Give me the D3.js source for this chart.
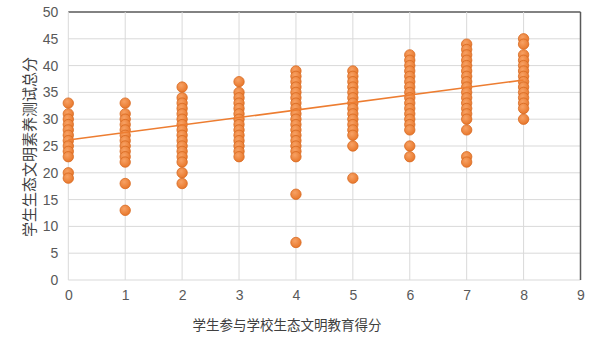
<!DOCTYPE html>
<html>
<head>
<meta charset="utf-8">
<script src="https://cdn.jsdelivr.net/npm/d3@7"></script>
<style>
  body { margin: 0; background: #fff; }
  text { font-family: "Liberation Sans", "DejaVu Sans", sans-serif; }
  .cjk { font-family: "Noto Sans CJK SC", sans-serif; }
</style>
</head>
<body>
<div id="chart"></div>
<script>
// x categories: 学生参与学校生态文明教育得分
var xScores = [0, 1, 2, 3, 4, 5, 6, 7, 8];
// y values read per x column: 学生生态文明素养测试总分
var col0 = [33, 31, 30, 29, 28, 27, 26, 25, 24, 23, 20, 19];
var col1 = [33, 31, 30, 29, 28, 27, 26, 25, 24, 23, 22, 18, 13];
var col2 = [36, 34, 33, 32, 31, 30, 29, 28, 27, 26, 25, 24, 23, 22, 20, 18];
var col3 = [37, 35, 34, 33, 32, 31, 30, 29, 28, 27, 26, 25, 24, 23];
var col4 = [39, 38, 37, 36, 35, 34, 33, 32, 31, 30, 29, 28, 27, 26, 25, 24, 23, 16, 7];
var col5 = [39, 38, 37, 36, 35, 34, 33, 32, 31, 30, 29, 28, 27, 25, 19];
var col6 = [42, 41, 40, 39, 38, 37, 36, 35, 34, 33, 32, 31, 30, 29, 28, 25, 23];
var col7 = [44, 43, 42, 41, 40, 39, 38, 37, 36, 35, 34, 33, 32, 31, 30, 28, 23, 22];
var col8 = [45, 44, 42, 41, 40, 39, 38, 37, 36, 35, 34, 33, 32, 30];
var yCols = [col0, col1, col2, col3, col4, col5, col6, col7, col8];
// linear trend line endpoints
var trendX = [0, 8];
var trendY = [26.1, 37.3];
var xTicks = [0, 1, 2, 3, 4, 5, 6, 7, 8, 9];
var yTicks = [0, 5, 10, 15, 20, 25, 30, 35, 40, 45, 50];

var width = 592, height = 350;
var margin = {top: 12, right: 11.5, bottom: 70, left: 68.3};

var svg = d3.select("#chart").append("svg")
    .attr("width", width)
    .attr("height", height);

var x = d3.scaleLinear().domain([0, 9]).range([margin.left, width - margin.right]);
var y = d3.scaleLinear().domain([0, 50]).range([height - margin.bottom, margin.top]);

// gridlines
svg.append("g")
    .selectAll("line.h")
    .data(yTicks)
    .enter()
    .append("line")
    .attr("x1", x(0)).attr("x2", x(9))
    .attr("y1", function (d) { return y(d); })
    .attr("y2", function (d) { return y(d); })
    .attr("stroke", function (d) { return d === 50 ? "#595959" : "#d9d9d9"; })
    .attr("stroke-width", function (d) { return d === 50 ? 1.5 : 1; });

svg.append("g")
    .selectAll("line.v")
    .data(xTicks)
    .enter()
    .append("line")
    .attr("y1", y(0)).attr("y2", y(50))
    .attr("x1", function (d) { return x(d); })
    .attr("x2", function (d) { return x(d); })
    .attr("stroke", function (d) { return d === 9 ? "#595959" : "#d9d9d9"; })
    .attr("stroke-width", function (d) { return d === 9 ? 1.5 : 1; });

// axes (labels only)
var yAxis = svg.append("g")
    .attr("transform", "translate(" + margin.left + ",0)")
    .call(d3.axisLeft(y).tickValues(yTicks).tickSize(0).tickPadding(10));
yAxis.select(".domain").remove();
yAxis.selectAll("text")
    .style("font-size", "14px")
    .style("fill", "#595959");

var xAxis = svg.append("g")
    .attr("transform", "translate(0," + y(0) + ")")
    .call(d3.axisBottom(x).tickValues(xTicks).tickSize(0).tickPadding(10));
xAxis.select(".domain").remove();
xAxis.selectAll("text")
    .style("font-size", "14px")
    .style("fill", "#595959");

// points
var defs = svg.append("defs");
var grad = defs.append("radialGradient")
    .attr("id", "dotGrad")
    .attr("cx", "40%").attr("cy", "35%").attr("r", "65%");
grad.append("stop").attr("offset", "0%").attr("stop-color", "#f7a164");
grad.append("stop").attr("offset", "100%").attr("stop-color", "#e8782c");

var points = [];
yCols.forEach(function (col, i) {
    col.forEach(function (v) {
        points.push({x: xScores[i], y: v});
    });
});

svg.append("g")
    .selectAll("circle")
    .data(points)
    .enter()
    .append("circle")
    .attr("cx", function (d) { return x(d.x); })
    .attr("cy", function (d) { return y(d.y); })
    .attr("r", 5.2)
    .attr("fill", "url(#dotGrad)")
    .attr("stroke", "#d86a21")
    .attr("stroke-width", 0.8);

// trend line
var line = d3.line()
    .x(function (d) { return x(d[0]); })
    .y(function (d) { return y(d[1]); });

svg.append("path")
    .datum(d3.zip(trendX, trendY))
    .attr("d", line)
    .attr("fill", "none")
    .attr("stroke", "#ed7d31")
    .attr("stroke-width", 1.5);

// axis titles
svg.append("text")
    .attr("class", "cjk")
    .attr("x", 287)
    .attr("y", 330)
    .attr("text-anchor", "middle")
    .style("font-size", "13.5px")
    .style("fill", "#404040")
    .text("学生参与学校生态文明教育得分");

svg.append("text")
    .attr("class", "cjk")
    .attr("transform", "translate(35,147) rotate(-90)")
    .attr("text-anchor", "middle")
    .style("font-size", "15px")
    .style("fill", "#404040")
    .text("学生生态文明素养测试总分");
</script>
</body>
</html>
